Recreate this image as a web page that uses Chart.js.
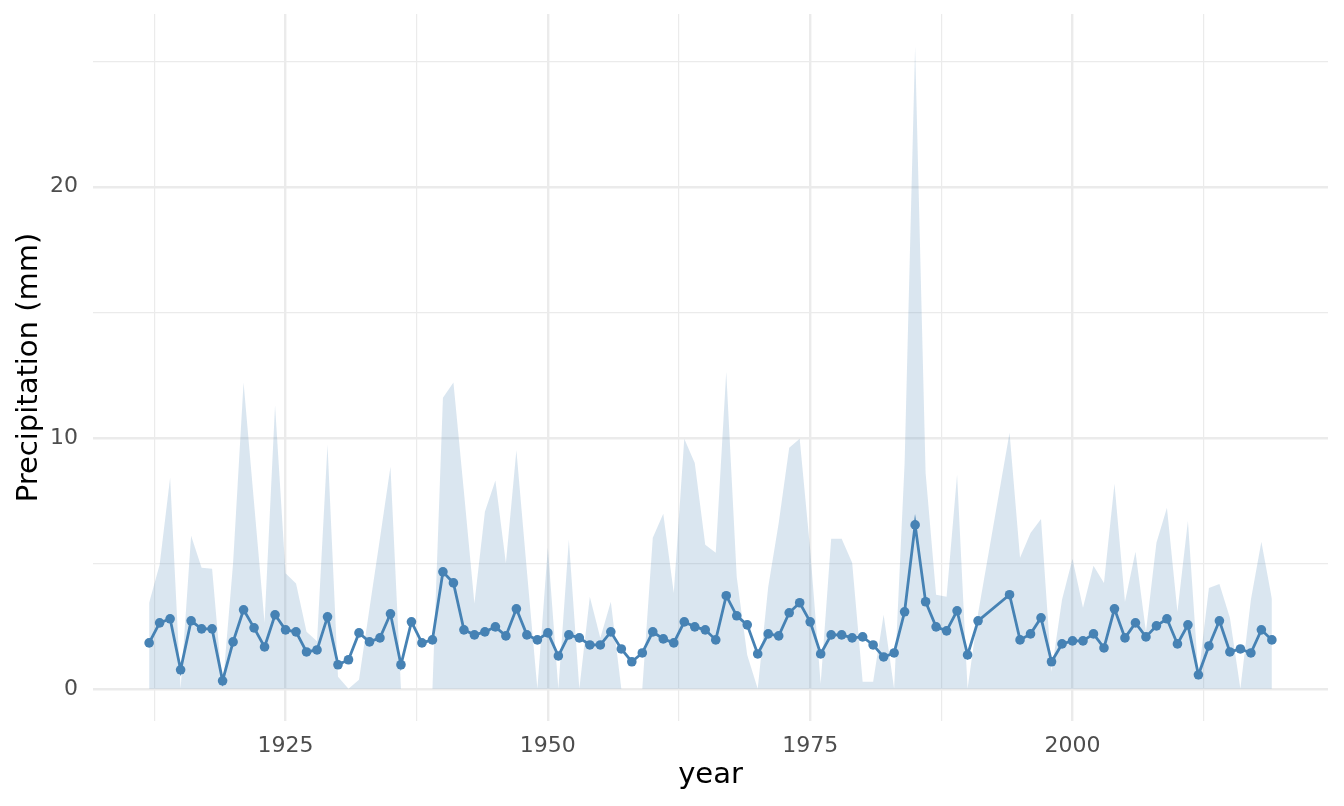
<!DOCTYPE html>
<html>
<head>
<meta charset="utf-8">
<title>Precipitation by year</title>
<script src="https://cdn.jsdelivr.net/npm/chart.js@4.4.1/dist/chart.umd.min.js"></script>
<style>
  html, body { margin: 0; padding: 0; background: #ffffff; }
  #wrap { width: 1344px; height: 806px; }
</style>
</head>
<body>
<div id="wrap"><canvas id="precipChart"></canvas></div>
<script>
// years present in the data (1992 and 1993 are missing)
const years = [
  1912, 1913, 1914, 1915, 1916, 1917, 1918, 1919, 1920, 1921,
  1922, 1923, 1924, 1925, 1926, 1927, 1928, 1929, 1930, 1931,
  1932, 1933, 1934, 1935, 1936, 1937, 1938, 1939, 1940, 1941,
  1942, 1943, 1944, 1945, 1946, 1947, 1948, 1949, 1950, 1951,
  1952, 1953, 1954, 1955, 1956, 1957, 1958, 1959, 1960, 1961,
  1962, 1963, 1964, 1965, 1966, 1967, 1968, 1969, 1970, 1971,
  1972, 1973, 1974, 1975, 1976, 1977, 1978, 1979, 1980, 1981,
  1982, 1983, 1984, 1985, 1986, 1987, 1988, 1989, 1990, 1991,
  1994, 1995, 1996, 1997, 1998, 1999, 2000, 2001, 2002, 2003,
  2004, 2005, 2006, 2007, 2008, 2009, 2010, 2011, 2012, 2013,
  2014, 2015, 2016, 2017, 2018, 2019
];

// mean precipitation (line + points)
const meanPrecip = [
  1.83, 2.63, 2.79, 0.76, 2.71, 2.39, 2.39, 0.32, 1.87, 3.15,
  2.43, 1.67, 2.95, 2.35, 2.27, 1.47, 1.55, 2.87, 0.96, 1.16,
  2.23, 1.87, 2.03, 2.99, 0.96, 2.67, 1.83, 1.95, 4.66, 4.22,
  2.35, 2.15, 2.27, 2.47, 2.11, 3.19, 2.15, 1.95, 2.23, 1.31,
  2.15, 2.03, 1.75, 1.75, 2.27, 1.59, 1.08, 1.43, 2.27, 1.99,
  1.83, 2.67, 2.47, 2.35, 1.95, 3.71, 2.91, 2.55, 1.39, 2.19,
  2.11, 3.03, 3.43, 2.67, 1.39, 2.15, 2.15, 2.03, 2.07, 1.75,
  1.27, 1.43, 3.07, 6.53, 3.47, 2.47, 2.31, 3.11, 1.35, 2.71,
  3.75, 1.95, 2.19, 2.83, 1.08, 1.79, 1.91, 1.91, 2.19, 1.63,
  3.19, 2.03, 2.63, 2.07, 2.51, 2.79, 1.79, 2.55, 0.56, 1.71,
  2.71, 1.47, 1.59, 1.43, 2.35, 1.95
];

// upper edge of the shaded band
const maxPrecip = [
  3.43, 4.94, 8.41, 0.00, 6.10, 4.82, 4.78, 0.00, 5.00, 12.20,
  7.40, 2.63, 11.30, 4.60, 4.20, 2.27, 1.90, 9.72, 0.48, 0.00,
  0.36, 3.20, 6.00, 8.85, 0.00, 0.00, 0.00, 0.00, 11.60, 12.20,
  7.85, 3.40, 7.05, 8.30, 5.00, 9.50, 4.70, 0.00, 5.62, 0.00,
  5.94, 0.00, 3.67, 2.03, 3.47, 0.00, 0.00, 0.00, 6.02, 6.97,
  3.82, 9.96, 9.00, 5.74, 5.42, 12.63, 4.46, 1.35, 0.00, 4.06,
  6.61, 9.60, 9.96, 5.54, 0.20, 5.98, 5.98, 5.02, 0.28, 0.28,
  2.95, 0.00, 9.00, 25.60, 8.60, 3.75, 3.67, 8.53, 0.00, 3.00,
  10.20, 5.22, 6.21, 6.77, 0.68, 3.55, 5.18, 3.23, 4.90, 4.22,
  8.17, 3.47, 5.46, 2.27, 5.82, 7.21, 3.07, 6.69, 0.50, 4.02,
  4.18, 2.83, 0.00, 3.55, 5.86, 3.59
];

// axis ticks (majors get labels, the rest are minor grid lines)
const xTicks = [1912.5, 1925, 1937.5, 1950, 1962.5, 1975, 1987.5, 2000, 2012.5];
const yTicks = [0, 5, 10, 15, 20, 25];

const steel = '#4682B4';
const gridColor = '#EBEBEB';
const fontFamily = '"DejaVu Sans", "Liberation Sans", sans-serif';

const xMin = 1912 - 0.05 * (2019 - 1912);
const xMax = 2019 + 0.05 * (2019 - 1912);
const yMin = -0.05 * 25.6;
const yMax = 25.6 * 1.05;

// drop the label overhang padding so the plot panel sits where we want it
function noScalePadding(scale) {
  scale.paddingTop = 0;
  scale.paddingBottom = 0;
  scale.paddingLeft = 0;
  scale.paddingRight = 0;
}

const ctx = document.getElementById('precipChart').getContext('2d');
const precipChart = new Chart(ctx, {
  type: 'line',
  data: {
    datasets: [
      {
        label: 'range',
        data: years.map((y, i) => ({ x: y, y: maxPrecip[i] })),
        fill: 'origin',
        backgroundColor: 'rgba(70,130,180,0.2)',
        borderWidth: 0,
        pointRadius: 0,
        tension: 0,
        order: 2
      },
      {
        label: 'mean',
        data: years.map((y, i) => ({ x: y, y: meanPrecip[i] })),
        borderColor: steel,
        borderWidth: 2.8,
        pointRadius: 4.8,
        pointBackgroundColor: steel,
        pointBorderWidth: 0,
        fill: false,
        tension: 0,
        order: 1
      }
    ]
  },
  options: {
    responsive: true,
    maintainAspectRatio: false,
    animation: false,
    layout: { padding: { top: 14, right: 16, left: 0, bottom: 0 } },
    plugins: {
      legend: { display: false },
      tooltip: { enabled: false }
    },
    scales: {
      x: {
        type: 'linear',
        min: xMin,
        max: xMax,
        afterBuildTicks: axis => { axis.ticks = xTicks.map(v => ({ value: v })); },
        afterFit: scale => { scale.height = 806 - 721; noScalePadding(scale); },
        border: { display: false },
        grid: {
          color: gridColor,
          drawTicks: false,
          lineWidth: c => (c.tick && c.tick.value % 25 === 0 ? 2.4 : 1.2)
        },
        ticks: {
          autoSkip: false,
          maxRotation: 0,
          padding: 12,
          color: '#4D4D4D',
          font: { family: fontFamily, size: 22 },
          callback: v => (v % 25 === 0 ? String(v) : '')
        },
        title: {
          display: true,
          text: 'year',
          color: '#000000',
          font: { family: fontFamily, size: 29 },
          padding: { top: 0, bottom: 13 }
        }
      },
      y: {
        type: 'linear',
        min: yMin,
        max: yMax,
        afterBuildTicks: axis => { axis.ticks = yTicks.map(v => ({ value: v })); },
        afterFit: scale => { scale.width = 93; noScalePadding(scale); },
        border: { display: false },
        grid: {
          color: gridColor,
          drawTicks: false,
          lineWidth: c => (c.tick && c.tick.value % 10 === 0 ? 2.4 : 1.2)
        },
        ticks: {
          padding: 15,
          color: '#4D4D4D',
          font: { family: fontFamily, size: 22 },
          callback: v => (v % 10 === 0 ? String(v) : '')
        },
        title: {
          display: true,
          text: 'Precipitation (mm)',
          color: '#000000',
          font: { family: fontFamily, size: 29 },
          padding: { top: 12, bottom: 0 }
        }
      }
    }
  }
});
</script>
</body>
</html>
